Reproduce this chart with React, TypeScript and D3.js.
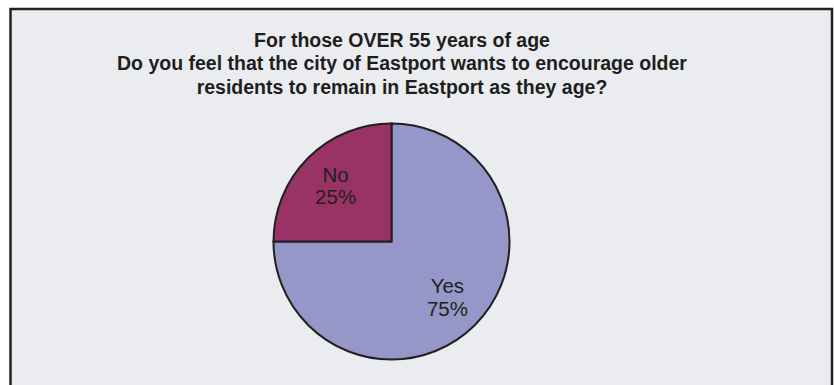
import React from "react";
import * as d3 from "d3";

const titleLines = [
  "For those OVER 55 years of age",
  "Do you feel that the city of Eastport wants to encourage older",
  "residents to remain in Eastport as they age?",
];
const categories = ["Yes", "No"];
const values = [75, 25];
const colors = ["#9597c9", "#993366"];

const W = 834;
const H = 385;

export default function App() {
  const cx = 391.5;
  const cy = 241.5;
  const r = 118;
  const data = categories.map((c, i) => ({ name: c, value: values[i], color: colors[i] }));
  const pie = d3.pie<any>().value((d: any) => d.value).sort(null);
  const arcs = pie(data);
  const arc = d3.arc<any>().innerRadius(0).outerRadius(r);
  const labelArc = d3.arc<any>().innerRadius(r * 0.34).outerRadius(r);
  const total = d3.sum(values);

  return (
    <div style={{ position: "fixed", left: 0, top: 0 }}>
      <svg width={W} height={H} style={{ display: "block", background: "#fff" }}>
        <rect x={10.5} y={9} width={821.5} height={H} fill="#ebecef" stroke="#222" strokeWidth={2.5} />
        <g fontFamily="'Liberation Sans', Arial, sans-serif" fill="#1e1e1e">
          {titleLines.map((t, i) => (
            <text key={i} x={402} y={47 + i * 23.3} textAnchor="middle" fontSize={19.5} fontWeight="bold">
              {t}
            </text>
          ))}
        </g>
        <g transform={`translate(${cx},${cy})`}>
          {arcs.map((a, i) => (
            <path key={i} d={arc(a) as string} fill={a.data.color} stroke="#231f20" strokeWidth={2} strokeLinejoin="miter" />
          ))}
          {arcs.map((a, i) => {
            const [lx, ly] = labelArc.centroid(a);
            return (
              <text key={"l" + i} x={lx} y={ly} textAnchor="middle" fontSize={20.5} fill="#231f20"
                fontFamily="'Liberation Sans', Arial, sans-serif">
                <tspan x={lx} y={ly - 4}>{a.data.name}</tspan>
                <tspan x={lx} y={ly + 18.7}>{Math.round((a.data.value / total) * 100) + "%"}</tspan>
              </text>
            );
          })}
        </g>
      </svg>
    </div>
  );
}
